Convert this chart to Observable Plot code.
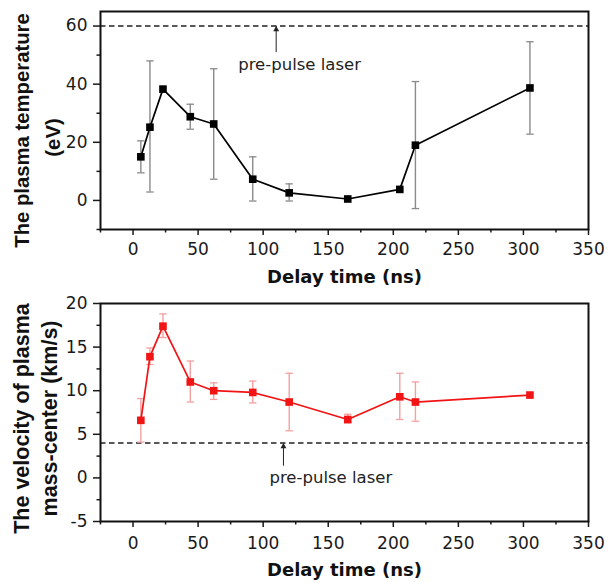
<!DOCTYPE html>
<html>
<head>
<meta charset="utf-8">
<script src="https://cdn.jsdelivr.net/npm/d3@7"></script>
<script src="https://cdn.jsdelivr.net/npm/@observablehq/plot@0.6"></script>
<style>
  html, body { margin: 0; padding: 0; background: #fff; }
  #chart svg { display: block; }
</style>
</head>
<body>
<div id="chart"></div>
<script>
// ---- data ----
const delay = [6, 13, 23, 44, 62, 92, 120, 165, 205, 217, 305];
const temperature = [15.0, 25.2, 38.3, 28.8, 26.3, 7.3, 2.6, 0.5, 3.8, 19.0, 38.7];
const tempErrLow  = [9.5, 2.9, null, 24.5, 7.3, -0.2, -0.2, null, null, -2.8, 22.8];
const tempErrHigh = [20.5, 48.0, null, 33.1, 45.3, 15.0, 5.7, null, null, 40.9, 54.6];
const velocity = [6.6, 13.9, 17.4, 11.0, 10.0, 9.8, 8.7, 6.7, 9.3, 8.7, 9.5];
const velErrLow  = [4.1, 13.0, 16.1, 8.7, 9.0, 8.6, 5.4, 6.3, 6.7, 6.5, null];
const velErrHigh = [9.1, 14.9, 18.8, 13.4, 10.9, 11.1, 12.0, 7.3, 12.0, 11.0, null];

const xTicks = [0, 50, 100, 150, 200, 250, 300, 350];
const xMinorTicks = [-25, 25, 75, 125, 175, 225, 275, 325];
const tempTicks = [0, 20, 40, 60];
const tempMinorTicks = [-10, 10, 30, 50];
const velTicks = [-5, 0, 5, 10, 15, 20];
const velMinorTicks = [-2.5, 2.5, 7.5, 12.5, 17.5];

const xLabel = "Delay time (ns)";
const tempLabel = ["The plasma temperature", "(eV)"];
const velLabel = ["The velocity of plasma", "mass-center (km/s)"];
const prePulseText = "pre-pulse laser";
const tempPrePulse = 60;
const velPrePulse = 4;
const tempAnnot = {x: 110, yFrom: 51, yTo: 60, tx: 128, ty: 46.7};
const velAnnot = {x: 115.6, yFrom: 1.4, yTo: 4, tx: 152, ty: 0};

// ---- build tables ----
const tempData = delay.map((d, i) => ({x: d, y: temperature[i], lo: tempErrLow[i], hi: tempErrHigh[i]}));
const velData = delay.map((d, i) => ({x: d, y: velocity[i], lo: velErrLow[i], hi: velErrHigh[i]}));

const capSymbol = {
  draw(ctx, size) {
    const w = Math.sqrt(size);
    ctx.moveTo(-w, 0);
    ctx.lineTo(w, 0);
  }
};

const WIDE = "'DejaVu Sans', Verdana, sans-serif";
const NARROW = "'Liberation Sans', Arial, Helvetica, sans-serif";
const fmt = d => String(d);

function panel({data, height, marginTop, marginBottom, yDomain, yTicks, yMinor, color, errColor,
                labels, labelSize, labelDx, labelDy, xLabelDy, xPad, prePulse, annot}) {
  const errs = data.filter(d => d.lo != null);
  return Plot.plot({
    width: 608,
    height,
    marginLeft: 100,
    marginRight: 20,
    marginTop,
    marginBottom,
    x: {domain: [-25, 350]},
    y: {domain: yDomain},
    style: {fontFamily: WIDE, fontSize: "17px", color: "#1a1a1a", background: "#fff", overflow: "visible"},
    marks: [
      Plot.ruleY([prePulse], {stroke: "#222", strokeWidth: 1.5, strokeDasharray: "5.5,3.5"}),
      Plot.link([annot], {x1: "x", x2: "x", y1: "yFrom", y2: "yTo", stroke: "#222", strokeWidth: 1}),
      Plot.dot([annot], {x: "x", y: "yTo", symbol: "triangle", r: 2.2, fill: "#222", dy: 3.4}),
      Plot.text([annot], {x: "tx", y: "ty", text: () => prePulseText, fontSize: 16.5, fill: "#222"}),
      Plot.ruleX(errs, {x: "x", y1: "lo", y2: "hi", stroke: errColor, strokeWidth: 1.4}),
      Plot.dot(errs, {x: "x", y: "lo", symbol: capSymbol, r: 2.1, fill: "none", stroke: errColor, strokeWidth: 1.3}),
      Plot.dot(errs, {x: "x", y: "hi", symbol: capSymbol, r: 2.1, fill: "none", stroke: errColor, strokeWidth: 1.3}),
      Plot.line(data, {x: "x", y: "y", stroke: color, strokeWidth: 1.7}),
      Plot.dot(data, {x: "x", y: "y", symbol: "square", r: 4.3, fill: color, stroke: "none"}),
      Plot.axisX({ticks: xTicks, tickFormat: fmt, tickSize: 6, tickPadding: xPad, label: null, strokeWidth: 1.5, fontSize: 17}),
      Plot.axisX({ticks: xMinorTicks, tickSize: 3.5, text: null, label: null, strokeWidth: 1.5}),
      Plot.axisY({ticks: yTicks, tickFormat: fmt, tickSize: 7, tickPadding: 6, label: null, strokeWidth: 1.5, fontSize: 17}),
      Plot.axisY({ticks: yMinor, tickSize: 3.5, text: null, label: null, strokeWidth: 1.5}),
      Plot.frame({stroke: "#111", strokeWidth: 2}),
      Plot.text([xLabel], {frameAnchor: "bottom", textAnchor: "middle", lineAnchor: "top", dy: xLabelDy, fontFamily: WIDE, fontWeight: "bold", fontSize: 18, fill: "#111"}),
      Plot.text([labels[0]], {frameAnchor: "left", textAnchor: "middle", lineAnchor: "middle", dx: labelDx[0], dy: labelDy[0], rotate: -90, fontFamily: NARROW, fontWeight: "bold", fontSize: labelSize, fill: "#111"}),
      Plot.text([labels[1]], {frameAnchor: "left", textAnchor: "middle", lineAnchor: "middle", dx: labelDx[1], dy: labelDy[1], rotate: -90, fontFamily: NARROW, fontWeight: "bold", fontSize: labelSize, fill: "#111"})
    ]
  });
}

const topPanel = panel({
  data: tempData, height: 290, marginTop: 11, marginBottom: 61,
  yDomain: [-10, 65], yTicks: tempTicks, yMinor: tempMinorTicks,
  color: "#000", errColor: "#8a8a8a", labels: tempLabel, labelSize: 20.3,
  labelDx: [-78, -47], labelDy: [10, 17], xLabelDy: 41, xPad: 7,
  prePulse: tempPrePulse, annot: tempAnnot
});
const bottomPanel = panel({
  data: velData, height: 293, marginTop: 13, marginBottom: 62,
  yDomain: [-5, 20], yTicks: velTicks, yMinor: velMinorTicks,
  color: "#f01414", errColor: "#f4a0a0", labels: velLabel, labelSize: 21.5,
  labelDx: [-78, -50], labelDy: [6, 6], xLabelDy: 42, xPad: 9,
  prePulse: velPrePulse, annot: velAnnot
});
document.getElementById("chart").append(topPanel, bottomPanel);
</script>
</body>
</html>
